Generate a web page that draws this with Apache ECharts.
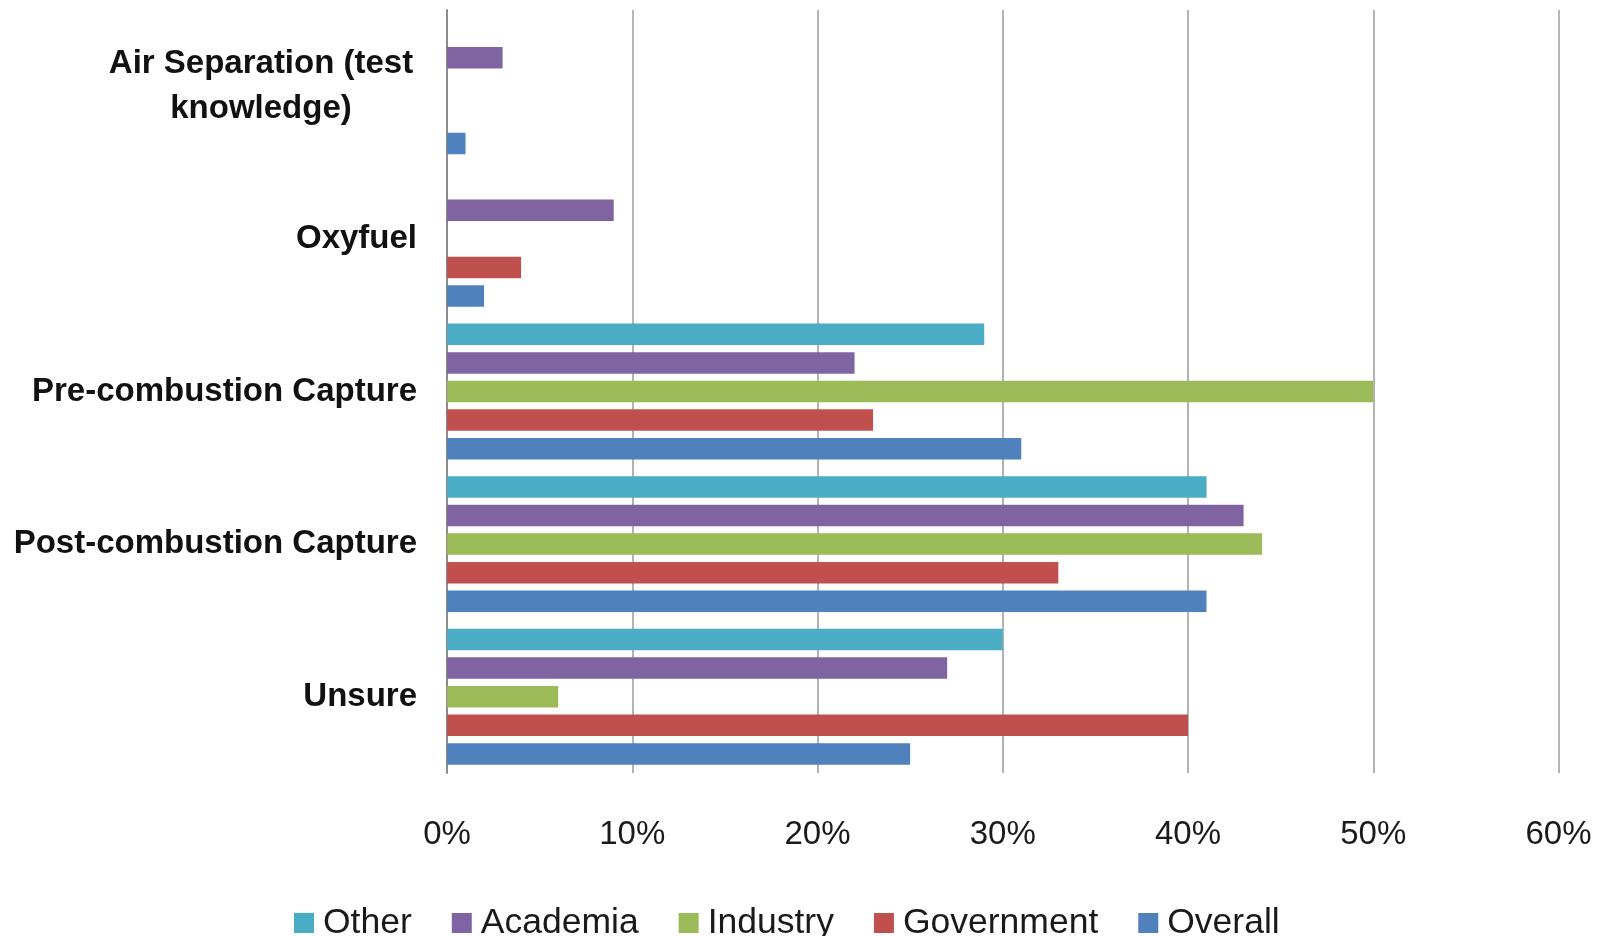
<!DOCTYPE html>
<html>
<head>
<meta charset="utf-8">
<title>CO2 capture technologies by respondent group</title>
<script src="https://cdn.jsdelivr.net/npm/echarts@6/dist/echarts.min.js"></script>
<style>
  html, body { margin: 0; padding: 0; background: #ffffff; }
  #chart { width: 1601px; height: 936px; }
</style>
</head>
<body>
<div id="chart"></div>
<script>
// Categories listed bottom-to-top (ECharts category y axis starts at the bottom)
const categories = [
  'Unsure',
  'Post-combustion Capture',
  'Pre-combustion Capture',
  'Oxyfuel',
  'Air Separation (test knowledge)'
];

// Share of respondents (%) per group, same order as categories
const overall    = [25, 41, 31, 2, 1];
const government = [40, 33, 23, 4, 0];
const industry   = [6, 44, 50, 0, 0];
const academia   = [27, 43, 22, 9, 3];
const other      = [30, 41, 29, 0, 0];

const xTicks = [0, 10, 20, 30, 40, 50, 60];
const legendOrder = ['Other', 'Academia', 'Industry', 'Government', 'Overall'];

const colors = {
  Overall: '#4F81BD',
  Government: '#C0504D',
  Industry: '#9BBB59',
  Academia: '#8064A2',
  Other: '#4BACC6'
};

const FONT = '"Liberation Sans", Arial, sans-serif';

function barSeries(name, values) {
  return {
    name: name,
    type: 'bar',
    data: values,
    barWidth: 21.5,
    barGap: '33%',
    itemStyle: { color: colors[name] },
    emphasis: { disabled: true }
  };
}

const chart = echarts.init(document.getElementById('chart'), null, { renderer: 'canvas' });

chart.setOption({
  animation: false,
  backgroundColor: '#ffffff',
  grid: { left: 447, right: 42.5, top: 10, bottom: 163, containLabel: false },
  legend: {
    data: legendOrder,
    left: 289,
    top: 900,
    icon: 'rect',
    itemWidth: 20,
    itemHeight: 20,
    itemGap: 40,
    textStyle: {
      fontFamily: FONT,
      fontSize: 35.5,
      color: '#1a1a1a',
      padding: [0, 0, 0, 4]
    }
  },
  xAxis: {
    type: 'value',
    min: xTicks[0],
    max: xTicks[xTicks.length - 1],
    interval: 10,
    axisLine: { show: false },
    axisTick: { show: false },
    splitLine: { show: true, lineStyle: { color: '#b3b3b3', width: 2 } },
    axisLabel: {
      margin: 45,
      fontFamily: FONT,
      fontSize: 33,
      color: '#1a1a1a',
      formatter: function (v) { return v + '%'; }
    }
  },
  yAxis: {
    type: 'category',
    data: categories,
    axisLine: { show: true, lineStyle: { color: '#8c8c8c', width: 2 } },
    axisTick: { show: false },
    axisLabel: {
      margin: 30,
      fontFamily: FONT,
      fontSize: 33,
      fontWeight: 'bold',
      color: '#111111',
      align: 'right',
      formatter: function (v) {
        if (v === 'Air Separation (test knowledge)') {
          return '{c|Air Separation (test}\n{c|knowledge)}';
        }
        return v;
      },
      rich: {
        c: {
          width: 312,
          align: 'center',
          fontFamily: FONT,
          fontSize: 33,
          fontWeight: 'bold',
          color: '#111111',
          lineHeight: 45
        }
      }
    }
  },
  // Series order sets the stacking inside each band: first series sits on top
  series: [
    barSeries('Other', other),
    barSeries('Academia', academia),
    barSeries('Industry', industry),
    barSeries('Government', government),
    barSeries('Overall', overall)
  ]
});
</script>
</body>
</html>
